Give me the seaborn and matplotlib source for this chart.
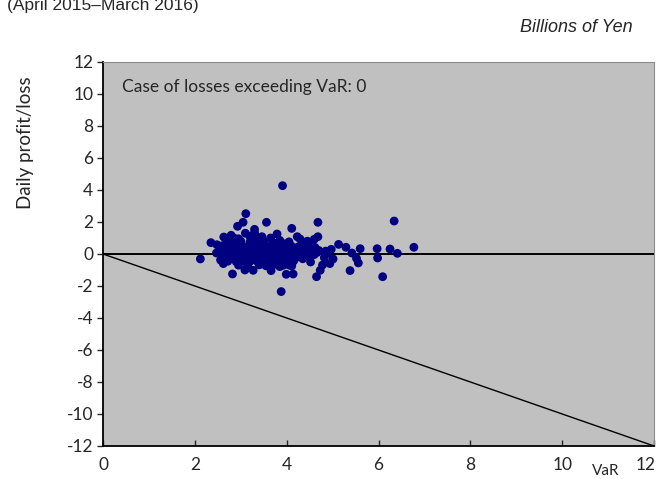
import matplotlib
matplotlib.use("Agg")
import matplotlib.pyplot as plt
import matplotlib.transforms as mtransforms
import seaborn as sns
import pandas as pd

# VaR (x) and daily profit/loss (y), billions of yen
var_values = [
    # outer points
    3.91, 3.11, 3.05, 2.93, 3.56, 4.11, 4.68, 6.34, 6.77, 6.41, 6.25, 5.97,
    5.98, 6.09, 5.60, 5.42, 5.52, 5.56, 5.38, 5.29, 5.13, 4.97, 5.01, 4.94,
    4.82, 4.78, 4.73, 4.65, 4.52, 4.68, 4.60, 4.29, 4.23, 3.79, 3.30, 3.30,
    2.79, 2.63, 2.35, 2.48, 2.12, 2.47, 2.56, 2.62, 2.82, 3.09, 3.27, 3.66,
    3.99, 4.14, 3.88, 3.60, 3.85, 4.11, 3.46,
    # upper part of the cluster
    2.95, 3.20, 3.45, 3.65, 3.85, 4.00, 3.10, 2.85, 3.35, 4.45,
    # dense core
    2.70, 2.85, 3.00, 3.20, 3.35, 3.50, 3.70, 3.90, 4.05, 4.40, 4.55,
    2.60, 2.72, 2.88, 3.02, 3.15, 3.28, 3.42, 3.55, 3.68, 3.82, 3.95, 4.10,
    4.25, 4.38, 4.62,
    2.55, 2.68, 2.80, 2.93, 3.06, 3.19, 3.31, 3.45, 3.58, 3.71, 3.84, 3.97,
    4.12, 4.28, 4.45, 4.70, 4.85,
    2.62, 2.75, 2.90, 3.04, 3.17, 3.30, 3.43, 3.56, 3.70, 3.83, 3.96, 4.09,
    4.22, 4.36, 4.50, 4.66, 4.90,
    2.58, 2.70, 2.85, 3.00, 3.12, 3.25, 3.38, 3.52, 3.65, 3.78, 3.92, 4.05,
    4.18, 4.32, 4.46, 4.60,
    2.66, 2.80, 2.95, 3.10, 3.23, 3.36, 3.50, 3.63, 3.77, 3.90, 4.03, 4.20,
    4.35,
    2.72, 2.90, 3.05, 3.20, 3.35, 3.48, 3.62, 3.80, 3.95, 4.15,
    2.95, 3.15, 3.40, 3.55, 3.72, 3.92, 4.05,
]
pl_values = [
    4.27, 2.52, 1.98, 1.73, 1.98, 1.60, 1.98, 2.06, 0.42, 0.04, 0.31, 0.33,
    -0.25, -1.42, 0.33, 0.06, -0.27, -0.56, -1.04, 0.42, 0.60, 0.29, -0.31, -0.60,
    -0.23, -0.69, -1.02, -1.42, -0.50, 1.08, 0.92, 0.94, 1.08, 1.25, 1.54, 1.33,
    1.17, 1.06, 0.71, 0.58, -0.31, 0.06, -0.38, -0.60, -1.25, -1.00, -1.02, -1.04,
    -1.27, -1.25, -2.35, -0.69, -0.79, -0.75, 1.08,
    0.95, 1.10, 0.90, 1.00, 0.85, 0.62, 1.30, 1.00, 1.05, 0.80,
    0.78, 0.72, 0.80, 0.74, 0.70, 0.77, 0.73, 0.68, 0.76, 0.70, 0.66,
    0.52, 0.48, 0.55, 0.50, 0.46, 0.53, 0.49, 0.51, 0.45, 0.54, 0.47, 0.50,
    0.44, 0.52, 0.40,
    0.30, 0.32, 0.27, 0.31, 0.28, 0.33, 0.29, 0.30, 0.26, 0.32, 0.28, 0.31,
    0.27, 0.30, 0.25, 0.22, 0.18,
    0.12, 0.10, 0.14, 0.11, 0.13, 0.09, 0.12, 0.15, 0.10, 0.13, 0.11, 0.14,
    0.08, 0.12, 0.10, 0.09, 0.06,
    -0.05, -0.08, -0.03, -0.06, -0.04, -0.07, -0.02, -0.05, -0.08, -0.04, -0.06, -0.03,
    -0.07, -0.05, -0.09, -0.04,
    -0.25, -0.28, -0.22, -0.26, -0.24, -0.29, -0.23, -0.27, -0.25, -0.21, -0.28, -0.24,
    -0.30,
    -0.45, -0.48, -0.42, -0.47, -0.44, -0.49, -0.43, -0.46, -0.50, -0.44,
    -0.70, -0.72, -0.68, -0.74, -0.66, -0.71, -0.69,
]

# VaR boundary line: loss equal to VaR
limit_x = [0, 12]
limit_y = [0, -12]

df = pd.DataFrame({"VaR": var_values, "PL": pl_values})

sns.set_style("white")
plt.rcParams["font.family"] = ["Lato", "DejaVu Sans"]
plt.rcParams["axes.unicode_minus"] = False

fig = plt.figure(figsize=(6.62, 4.79), dpi=100)
ax = fig.add_axes([0.1556, 0.0689, 0.8324, 0.8017])
ax.set_facecolor("#c0c0c0")

ax.axhline(0, color="black", lw=1.4, zorder=1)
sns.lineplot(x=limit_x, y=limit_y, ax=ax, color="black", lw=1.0, zorder=1)
sns.scatterplot(data=df, x="VaR", y="PL", ax=ax, color="#000080",
                s=40, edgecolor="none", zorder=3)

ax.set_xlim(0, 12)
ax.set_ylim(-12, 12)
ax.set_xticks(range(0, 13, 2))
ax.set_yticks(range(-12, 13, 2))
ax.tick_params(axis="x", direction="in", length=4, width=1, labelsize=12.5, pad=8,
               bottom=True)
ax.tick_params(axis="y", direction="out", length=4, width=1, labelsize=12.5, pad=3,
               left=True)

# the last x label sits a little inside the right edge, as in the original
last = ax.get_xticklabels()[-1]
last.set_transform(last.get_transform() +
                   mtransforms.ScaledTranslation(-6 / 72, 0, fig.dpi_scale_trans))

for side in ["left", "bottom"]:
    ax.spines[side].set_color("black")
    ax.spines[side].set_linewidth(1.3)
for side in ["top", "right"]:
    ax.spines[side].set_color("#8c8c8c")
    ax.spines[side].set_linewidth(0.8)

ax.set_xlabel("")
ax.set_ylabel("Daily profit/loss", fontsize=13.5)
ax.yaxis.set_label_coords(-0.125, 0.79)

ax.text(0.035, 0.935, "Case of losses exceeding VaR: 0", transform=ax.transAxes,
        fontsize=12.5, va="center", ha="left")
fig.text(606 / 662, 1 - 471 / 479, "VaR", fontsize=11, ha="center", va="center")

fig.text(0.01, 1 - 10 / 479, "(April 2015\u2013March 2016)", fontsize=12.5,
         family="Liberation Sans", va="baseline", ha="left")
fig.text(633 / 662, 1 - 27 / 479, "Billions of Yen", fontsize=13,
         family="Liberation Sans", style="italic", ha="right", va="center")

fig.savefig("out.png", dpi=100)
